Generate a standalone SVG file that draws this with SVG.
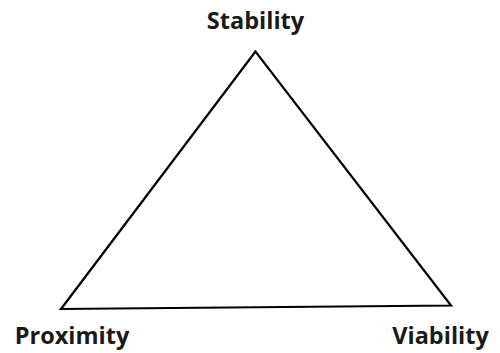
<svg xmlns="http://www.w3.org/2000/svg" width="500" height="353" viewBox="0 0 500 353">
<style>
.lbl{font-family:"Open Sans","DejaVu Sans",sans-serif;font-weight:bold;font-size:23.5px;fill:#1a1a1a}
.edge{fill:none;stroke:#000;stroke-width:2.2;stroke-linejoin:miter}
</style>
<rect width="500" height="353" fill="#fff"/>
<g id="connectors">
<polygon class="edge" points="255.5,51.5 61,309 451,305.5"/>
</g>
<g id="stability"><text class="lbl" x="255.5" y="29" text-anchor="middle">Stability</text></g>
<g id="proximity"><text class="lbl" x="72" y="344" text-anchor="middle">Proximity</text></g>
<g id="viability"><text class="lbl" x="440.5" y="344" text-anchor="middle">Viability</text></g>
</svg>
